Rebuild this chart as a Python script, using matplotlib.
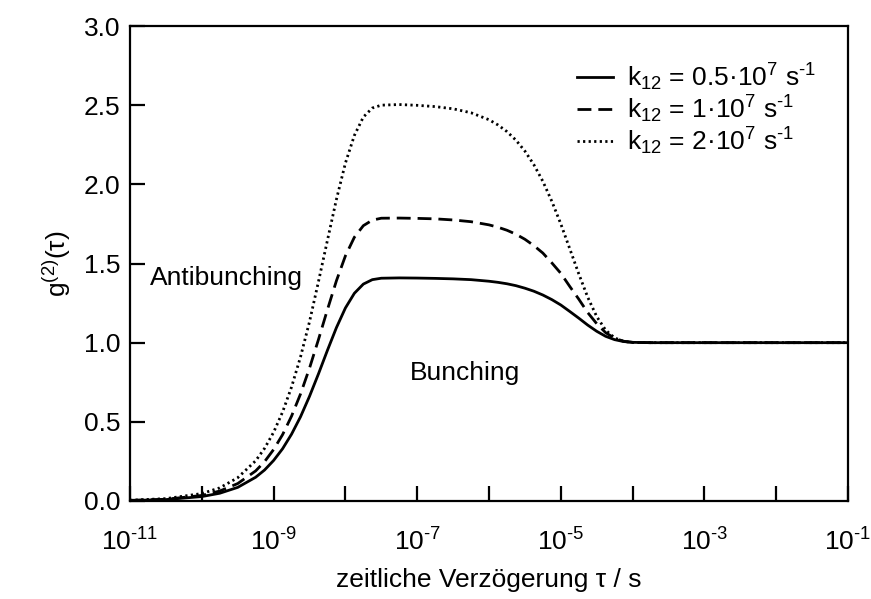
import numpy as np
import matplotlib
matplotlib.use("Agg")
import matplotlib.pyplot as plt
from matplotlib.ticker import FixedLocator, FuncFormatter, NullLocator

plt.rcParams['font.family'] = ['Liberation Sans', 'DejaVu Sans']
plt.rcParams['mathtext.fontset'] = 'custom'
plt.rcParams['mathtext.rm'] = 'Liberation Sans'
plt.rcParams['mathtext.it'] = 'Liberation Sans'
plt.rcParams['mathtext.bf'] = 'Liberation Sans'
plt.rcParams['axes.unicode_minus'] = False

# log10(tau / s) grid and g2 values
logt = [-11.0, -10.5, -10.0, -9.75, -9.5, -9.25, -9.125, -9.0, -8.875, -8.75,
        -8.625, -8.5, -8.375, -8.25, -8.125, -8.0, -7.875, -7.75, -7.625, -7.5,
        -7.25, -7.0, -6.75, -6.5, -6.25, -6.0, -5.875, -5.75, -5.625, -5.5,
        -5.375, -5.25, -5.125, -5.0, -4.875, -4.75, -4.625, -4.5, -4.375, -4.25,
        -4.125, -4.0, -3.75, -3.5, -3.0, -2.0, -1.0]

g2_k05 = [0.003, 0.009, 0.028, 0.049, 0.086, 0.150, 0.196, 0.256, 0.330, 0.422,
          0.532, 0.661, 0.803, 0.952, 1.095, 1.219, 1.312, 1.370, 1.398, 1.407,
          1.409, 1.408, 1.406, 1.403, 1.398, 1.388, 1.381, 1.372, 1.360, 1.344,
          1.325, 1.301, 1.272, 1.238, 1.197, 1.155, 1.111, 1.072, 1.040, 1.019,
          1.007, 1.002, 1.0, 1.0, 1.0, 1.0, 1.0]

g2_k1 = [0.004, 0.011, 0.035, 0.063, 0.110, 0.190, 0.249, 0.325, 0.419, 0.536,
         0.676, 0.839, 1.020, 1.209, 1.391, 1.548, 1.666, 1.739, 1.774, 1.786,
         1.787, 1.785, 1.782, 1.775, 1.764, 1.744, 1.729, 1.710, 1.685, 1.653,
         1.613, 1.566, 1.504, 1.438, 1.355, 1.275, 1.190, 1.120, 1.063, 1.028,
         1.009, 1.002, 1.0, 1.0, 1.0, 1.0, 1.0]

g2_k2 = [0.005, 0.015, 0.047, 0.083, 0.147, 0.254, 0.333, 0.434, 0.562, 0.720,
         0.910, 1.132, 1.386, 1.647, 1.905, 2.134, 2.309, 2.425, 2.482, 2.500,
         2.504, 2.499, 2.491, 2.477, 2.452, 2.408, 2.375, 2.333, 2.279, 2.210,
         2.124, 2.019, 1.893, 1.750, 1.593, 1.435, 1.287, 1.165, 1.079, 1.030,
         1.008, 1.001, 1.0, 1.0, 1.0, 1.0, 1.0]

labels = [r"k$_{12}$ = 0.5·10$^{7}$ s$^{\text{-}1}$",
          r"k$_{12}$ = 1·10$^{7}$ s$^{\text{-}1}$",
          r"k$_{12}$ = 2·10$^{7}$ s$^{\text{-}1}$"]

x_major_exp = list(range(-11, 0))
y_ticks = [0.0, 0.5, 1.0, 1.5, 2.0, 2.5, 3.0]

FS = 19

fig = plt.figure(figsize=(8.71, 5.99), dpi=100)
ax = fig.add_axes([130/871, 1 - 501/599, (848-130)/871, (501-26)/599])

tau = 10.0 ** np.array(logt)
ax.plot(tau, g2_k05, color='black', lw=2.0, ls='-', label=labels[0])
ax.plot(tau, g2_k1, color='black', lw=2.0, ls=(0, (5, 2.5)), label=labels[1])
ax.plot(tau, g2_k2, color='black', lw=2.0, ls=(0, (0.8, 1.2)), label=labels[2])

ax.set_xscale('log')
ax.set_xlim(1e-11, 1e-1)
ax.set_ylim(0, 3.0)

ax.xaxis.set_major_locator(FixedLocator([10.0**e for e in x_major_exp]))
ax.xaxis.set_minor_locator(NullLocator())

def xfmt(v, pos):
    e = int(round(np.log10(v)))
    if e % 2 != 0:
        return r"10$^{\text{-}%d}$" % abs(e)
    return ""
ax.xaxis.set_major_formatter(FuncFormatter(xfmt))
ax.set_yticks(y_ticks)
ax.set_yticklabels([f"{v:.1f}" for v in y_ticks])

ax.tick_params(axis='both', direction='in', length=11, width=1.6, labelsize=FS,
               top=False, right=False)
ax.tick_params(axis='x', pad=20)
ax.tick_params(axis='y', pad=7)
for s in ax.spines.values():
    s.set_linewidth(1.6)

ax.set_xlabel("zeitliche Verzögerung τ / s", fontsize=FS, labelpad=9)
ax.set_ylabel(r"g$^{(2)}$(τ)", fontsize=FS, labelpad=8)

ax.text(0.028, 0.469, "Antibunching", transform=ax.transAxes, fontsize=FS,
        ha='left', va='center')
ax.text(0.390, 0.269, "Bunching", transform=ax.transAxes, fontsize=FS,
        ha='left', va='center')

leg = ax.legend(loc='upper left', bbox_to_anchor=(0.6226, 0.925), frameon=False,
                fontsize=FS, handlelength=1.36, handletextpad=0.53, labelspacing=0.02,
                borderaxespad=0.0, borderpad=0.0)

fig.savefig("out.png", dpi=100)
